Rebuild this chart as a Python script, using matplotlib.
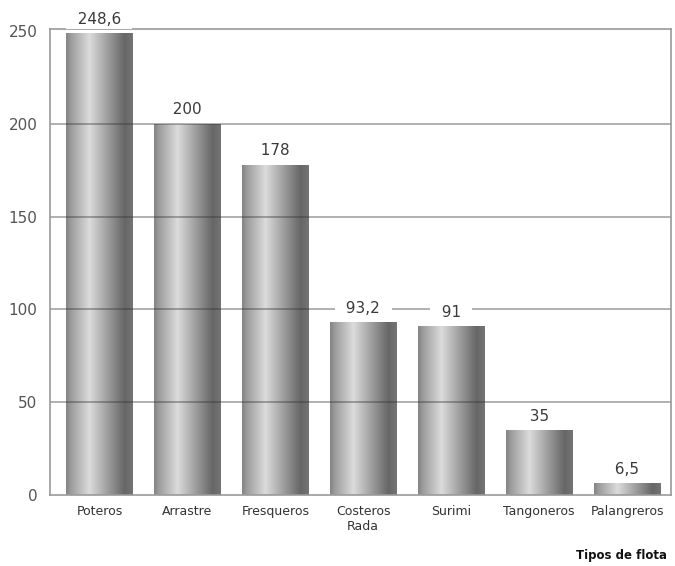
import numpy as np
import matplotlib
matplotlib.use("Agg")
import matplotlib.pyplot as plt

# flota y valores
tipos = ["Poteros", "Arrastre", "Fresqueros", "Costeros\nRada", "Surimi", "Tangoneros", "Palangreros"]
valores = [248.6, 200, 178, 93.2, 91, 35, 6.5]
etiquetas = ["248,6", "200", "178", "93,2", "91", "35", "6,5"]
yticks = [0, 50, 100, 150, 200, 250]

plt.rcParams['font.family'] = ['DejaVu Sans']

fig = plt.figure(figsize=(6.75, 5.66), dpi=100)
ax = fig.add_axes([50 / 675, 71 / 566, 621 / 675, 466 / 566])

x = np.arange(len(tipos))
bars = ax.bar(x, valores, width=0.76, color='none', edgecolor='none', zorder=2)

# sombreado cilindrico de las barras
pos = np.linspace(0, 1, 200)
shade = np.interp(pos, [0, 0.08, 0.35, 0.6, 0.88, 1.0],
                  [0.52, 0.62, 0.86, 0.64, 0.40, 0.46])
grad = np.tile(shade, (2, 1))
for b in bars:
    bx, by = b.get_x(), b.get_y()
    im = ax.imshow(grad, cmap='gray', vmin=0, vmax=1, aspect='auto',
                   extent=[bx, bx + b.get_width(), by, by + b.get_height()],
                   zorder=2, interpolation='bilinear')
    im.set_clip_path(b)

ax.set_xlim(-0.5625, 6.5)
ax.set_ylim(0, 251)

# lineas de referencia por encima de las barras
for yv in yticks[1:-1]:
    ax.axhline(yv, color='#333333', alpha=0.45, lw=1.2, zorder=3)

for xi, v, t in zip(x, valores, etiquetas):
    ax.annotate("  " + t + "  ", (xi, v), xytext=(0, 10), textcoords='offset points',
                ha='center', va='center', fontsize=11, color='#3a3a3a',
                bbox=dict(boxstyle='square,pad=0.1', fc='white', ec='none'),
                zorder=5, annotation_clip=False)

ax.set_yticks(yticks)
ax.set_yticklabels([str(v) for v in yticks], fontsize=11, color='#555555')
ax.set_xticks(x)
ax.set_xticklabels(tipos, fontsize=9, color='#333333', linespacing=1.2)
ax.tick_params(axis='both', length=0)
ax.tick_params(axis='y', pad=9)
ax.tick_params(axis='x', pad=7)

for s in ax.spines.values():
    s.set_color('#999999')
    s.set_linewidth(1.2)
    s.set_zorder(4)

fig.text(576 / 675, 1 - 555 / 566, "Tipos de flota", fontsize=8.5,
         fontweight='bold', ha='left', va='center', color='#111111')

fig.savefig("out.png", dpi=100)
